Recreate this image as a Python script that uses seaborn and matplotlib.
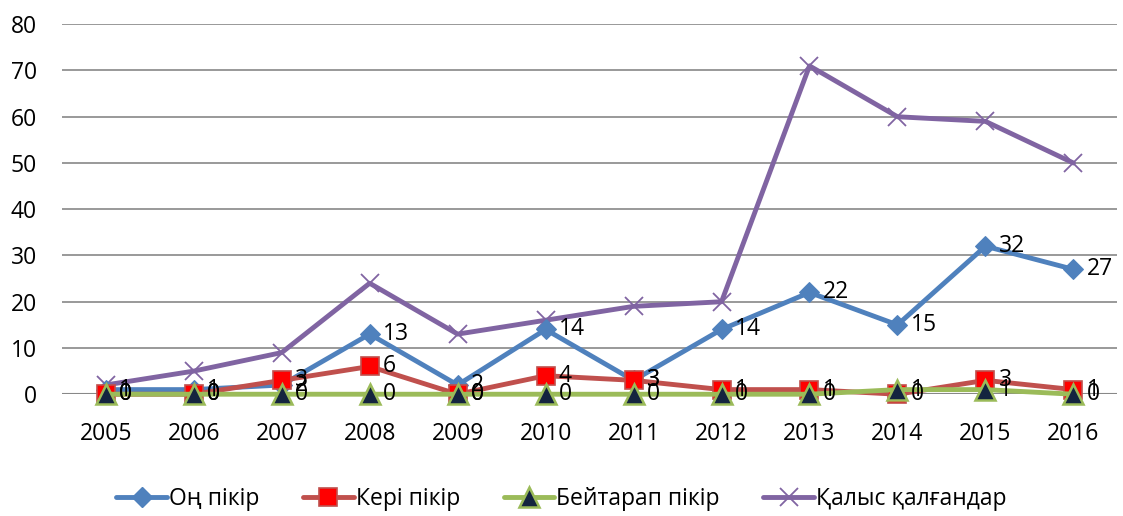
import matplotlib
matplotlib.use('Agg')
import matplotlib.pyplot as plt
import seaborn as sns
import numpy as np
import pandas as pd
from matplotlib.lines import Line2D

# data
years = ['2005', '2006', '2007', '2008', '2009', '2010', '2011', '2012', '2013', '2014', '2015', '2016']
positive = [1, 1, 2, 13, 2, 14, 3, 14, 22, 15, 32, 27]
negative = [0, 0, 3, 6, 0, 4, 3, 1, 1, 0, 3, 1]
neutral = [0, 0, 0, 0, 0, 0, 0, 0, 0, 1, 1, 0]
abstained = [2, 5, 9, 24, 13, 16, 19, 20, 71, 60, 59, 50]
series_names = ['Оң пікір', 'Кері пікір', 'Бейтарап пікір', 'Қалыс қалғандар']

sns.set_style('white')
plt.rcParams['font.family'] = ['Open Sans', 'DejaVu Sans']

fig = plt.figure(figsize=(11.23, 5.16), dpi=100)
ax = fig.add_axes([0.055, 0.236, 0.94, 0.717])

x = np.arange(len(years))

styles = [
    dict(color='#4F81BD', marker='D', markersize=10, markerfacecolor='#4F81BD', markeredgecolor='#4F81BD'),
    dict(color='#C0504D', marker='s', markersize=13, markerfacecolor='#FF0000', markeredgecolor='#C0504D', markeredgewidth=1.2),
    dict(color='#9BBB59', marker='^', markersize=14, markerfacecolor='#14243F', markeredgecolor='#9BBB59', markeredgewidth=1.8),
    dict(color='#8064A2', marker='x', markersize=13, markeredgecolor='#8064A2', markeredgewidth=1.3),
]
all_vals = [positive, negative, neutral, abstained]
zorders = [4, 5, 6, 3]

for vals, st, z in zip(all_vals, styles, zorders):
    sns.lineplot(x=x, y=vals, ax=ax, linewidth=3.5, zorder=z, clip_on=False, **st)

# data labels (not for the last series)
for vals in all_vals[:3]:
    for xi, v in zip(x, vals):
        ax.text(xi + 0.15, v, str(v), fontsize=16.5, va='center', ha='left', color='black', zorder=10)

ax.set_xlim(-0.5, len(years) - 0.5)
ax.set_ylim(0, 80)
ax.set_yticks(range(0, 81, 10))
ax.set_xticks(x)
ax.set_xticklabels(years)
ax.tick_params(axis='both', labelsize=16.5, length=0, labelcolor='black')
ax.tick_params(axis='x', pad=20)
ax.tick_params(axis='y', pad=18)
ax.yaxis.grid(True, color='#888888', linewidth=1.2)
ax.set_axisbelow(True)
for s in ax.spines.values():
    s.set_visible(False)
ax.axhline(0, color='#888888', linewidth=1.5, zorder=1)

handles = []
for st in styles:
    handles.append(Line2D([], [], linewidth=3.5, **st))
fig.legend(handles, series_names, loc='lower center', bbox_to_anchor=(0.5, -0.03), ncol=4,
           frameon=False, fontsize=16.5, handlelength=2.2, columnspacing=1.9, handletextpad=0.1,
           labelcolor='black')

fig.savefig('out.png', dpi=100)
